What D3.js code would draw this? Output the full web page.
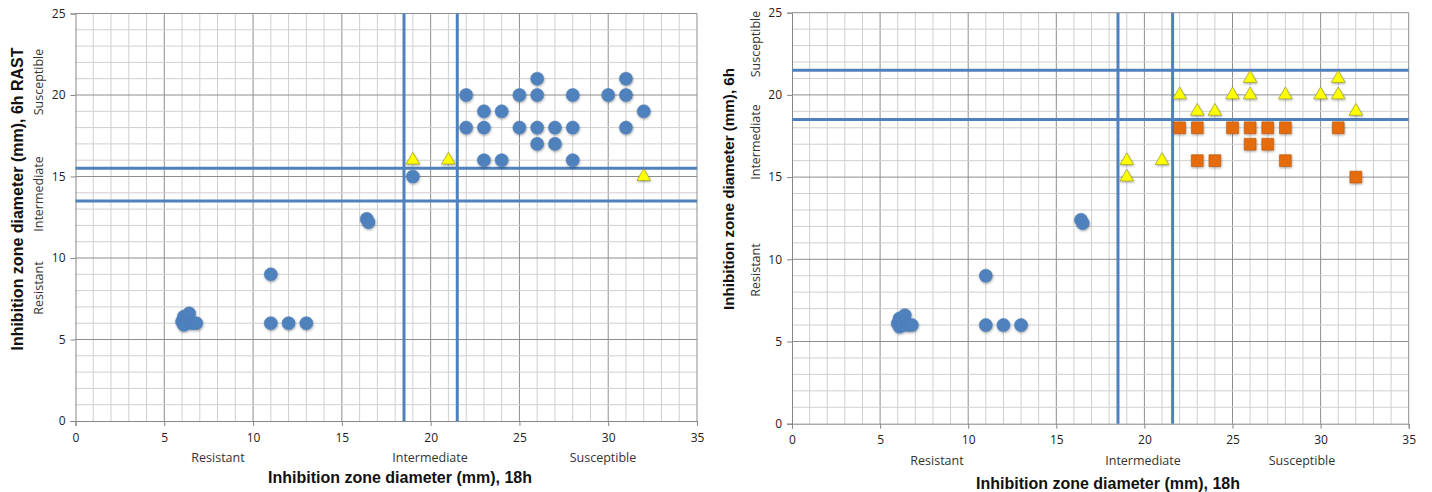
<!DOCTYPE html>
<html>
<head>
<meta charset="utf-8">
<script src="https://cdn.jsdelivr.net/npm/d3@7"></script>
<style>
  html, body { margin: 0; padding: 0; background: #fff; }
  svg { display: block; }
  .tick text { font-family: "Open Sans", sans-serif; font-size: 12px; fill: #222; }
  .cat { font-family: "Open Sans", sans-serif; font-size: 12.5px; fill: #333; }
  .title { font-family: "Liberation Sans", Arial, sans-serif; font-weight: bold; fill: #111; }
</style>
</head>
<body>
<svg id="chart" width="1432" height="492"></svg>
<script>
// Axis ticks and category names
const xMajorTicks = [0, 5, 10, 15, 20, 25, 30, 35];
const yMajorTicks = [0, 5, 10, 15, 20, 25];
const categories = ["Resistant", "Intermediate", "Susceptible"];

// Breakpoints (mm)
const leftBreakX = [18.5, 21.5];
const leftBreakY = [13.5, 15.5];
const rightBreakX = [18.5, 21.6];
const rightBreakY = [18.5, 21.5];

// Shared resistant cluster (18h diameter, 6h diameter)
const lowX = [6.0, 6.1, 6.1, 6.2, 6.3, 6.4, 6.6, 6.8, 11, 11, 12, 13, 16.4, 16.5];
const lowY = [6.1, 5.9, 6.4, 6.3, 6.0, 6.6, 6.0, 6.0, 9, 6, 6, 6, 12.4, 12.2];

// Left panel (6h RAST): blue circles
const leftCircX = [19, 22, 22, 23, 23, 23, 24, 24, 25, 25, 26, 26, 26, 26, 27, 27, 28, 28, 28, 30, 31, 31, 31, 32];
const leftCircY = [15, 20, 18, 19, 18, 16, 19, 16, 20, 18, 21, 20, 18, 17, 18, 17, 20, 18, 16, 20, 21, 20, 18, 19];
// Left panel: yellow triangles
const leftTriX = [19, 21, 32];
const leftTriY = [16, 16, 15];

// Right panel (6h): yellow triangles
const rightTriX = [19, 19, 21, 22, 23, 24, 25, 26, 26, 28, 30, 31, 31, 32];
const rightTriY = [16, 15, 16, 20, 19, 19, 20, 21, 20, 20, 20, 21, 20, 19];
// Right panel: orange squares
const rightSqX = [22, 23, 23, 24, 25, 26, 26, 27, 27, 28, 28, 31, 32];
const rightSqY = [18, 18, 16, 16, 18, 18, 17, 18, 17, 18, 16, 18, 15];

const svg = d3.select("#chart");

// soft drop shadow under markers
const defs = svg.append("defs");
const f = defs.append("filter").attr("id", "shadow")
  .attr("x", "-50%").attr("y", "-50%").attr("width", "200%").attr("height", "200%");
f.append("feDropShadow").attr("dx", 0.5).attr("dy", 1.2).attr("stdDeviation", 1)
  .attr("flood-color", "#000").attr("flood-opacity", 0.35);

const BLUE = "#4F81BD";

function panel(cfg) {
  const x = d3.scaleLinear().domain([0, 35]).range([cfg.x0, cfg.x1]);
  const y = d3.scaleLinear().domain([0, 25]).range([cfg.y0, cfg.y1]);
  const g = svg.append("g");

  // grid every 1 mm, darker every 5 mm
  g.append("g").selectAll("line").data(d3.range(1, 35)).join("line")
    .attr("x1", d => x(d)).attr("x2", d => x(d))
    .attr("y1", y(0)).attr("y2", y(25))
    .attr("stroke", d => d % 5 === 0 ? "#8e8e8e" : "#cfcfcf").attr("stroke-width", 1);
  g.append("g").selectAll("line").data(d3.range(1, 26)).join("line")
    .attr("x1", x(0)).attr("x2", x(35))
    .attr("y1", d => y(d)).attr("y2", d => y(d))
    .attr("stroke", d => d % 5 === 0 ? "#8e8e8e" : "#cfcfcf").attr("stroke-width", 1);
  g.append("line").attr("x1", x(35)).attr("x2", x(35)).attr("y1", y(0)).attr("y2", y(25))
    .attr("stroke", "#8e8e8e");

  // axes
  const xa = g.append("g").attr("transform", `translate(0,${y(0)})`)
    .call(d3.axisBottom(x).tickValues(xMajorTicks).tickSize(5).tickPadding(7));
  const ya = g.append("g").attr("transform", `translate(${x(0)},0)`)
    .call(d3.axisLeft(y).tickValues(yMajorTicks).tickSize(5).tickPadding(5));
  [xa, ya].forEach(a => {
    a.select(".domain").attr("stroke", "#868686");
    a.selectAll(".tick line").attr("stroke", "#868686");
  });

  // breakpoint lines
  g.append("g").selectAll("line").data(cfg.bx).join("line")
    .attr("x1", d => x(d)).attr("x2", d => x(d)).attr("y1", y(0)).attr("y2", y(25))
    .attr("stroke", BLUE).attr("stroke-width", 3);
  g.append("g").selectAll("line").data(cfg.by).join("line")
    .attr("x1", x(0)).attr("x2", x(35)).attr("y1", d => y(d)).attr("y2", d => y(d))
    .attr("stroke", BLUE).attr("stroke-width", 3);

  const marks = g.append("g").attr("filter", "url(#shadow)");
  cfg.series.forEach(s => {
    marks.append("g").selectAll("path").data(s.xs.map((v, i) => [v, s.ys[i]])).join("path")
      .attr("transform", d => `translate(${x(d[0])},${y(d[1])})`)
      .attr("d", d3.symbol().type(s.type).size(s.size))
      .attr("fill", s.fill).attr("stroke", s.stroke).attr("stroke-width", s.sw);
  });

  // category labels
  cfg.xcat.forEach((cx, i) => {
    g.append("text").attr("class", "cat").attr("x", cx).attr("y", cfg.xcatY)
      .attr("text-anchor", "middle").attr("dominant-baseline", "central").text(categories[i]);
  });
  cfg.ycat.forEach((cy, i) => {
    g.append("text").attr("class", "cat")
      .attr("transform", `translate(${cfg.ycatX},${cy}) rotate(-90)`)
      .attr("text-anchor", "middle").attr("dominant-baseline", "central").text(categories[i]);
  });

  g.append("text").attr("class", "title").attr("x", cfg.xtX).attr("y", cfg.xtY)
    .style("font-size", cfg.xtSize + "px")
    .attr("text-anchor", "middle").attr("dominant-baseline", "central").text(cfg.xTitle);
  g.append("text").attr("class", "title")
    .style("font-size", cfg.ytSize + "px")
    .attr("transform", `translate(${cfg.ytX},${cfg.ytY}) rotate(-90)`)
    .attr("text-anchor", "middle").attr("dominant-baseline", "central").text(cfg.yTitle);
}

const circleSym = { type: d3.symbolCircle, size: 135, fill: BLUE, stroke: "#4a7ab3", sw: 0.5 };

panel({
  x0: 75.5, x1: 697, y0: 421, y1: 13.5,
  bx: leftBreakX, by: leftBreakY,
  series: [
    Object.assign({ xs: lowX, ys: lowY }, circleSym),
    Object.assign({ xs: leftCircX, ys: leftCircY }, circleSym),
    { xs: leftTriX, ys: leftTriY, type: d3.symbolTriangle, size: 80, fill: "#FFFF00", stroke: "#8c8c1a", sw: 0.6 }
  ],
  xcat: [218, 430, 603], xcatY: 457,
  ycat: [288, 194, 82], ycatX: 38,
  xTitle: "Inhibition zone diameter (mm), 18h", xtX: 400, xtY: 477, xtSize: 16,
  yTitle: "Inhibition zone diameter (mm), 6h RAST", ytX: 17, ytY: 199, ytSize: 16
});

panel({
  x0: 792, x1: 1408.7, y0: 423.7, y1: 12.7,
  bx: rightBreakX, by: rightBreakY,
  series: [
    Object.assign({ xs: lowX, ys: lowY }, circleSym),
    { xs: rightSqX, ys: rightSqY, type: d3.symbolSquare, size: 140, fill: "#E46C0A", stroke: "#b5550a", sw: 0.6 },
    { xs: rightTriX, ys: rightTriY, type: d3.symbolTriangle, size: 80, fill: "#FFFF00", stroke: "#8c8c1a", sw: 0.6 }
  ],
  xcat: [937, 1143, 1302], xcatY: 460,
  ycat: [270, 142, 44], ycatX: 755,
  xTitle: "Inhibition zone diameter (mm), 18h", xtX: 1108, xtY: 483, xtSize: 16,
  yTitle: "Inhibition zone diameter (mm), 6h", ytX: 728, ytY: 189, ytSize: 15.2
});
</script>
</body>
</html>
